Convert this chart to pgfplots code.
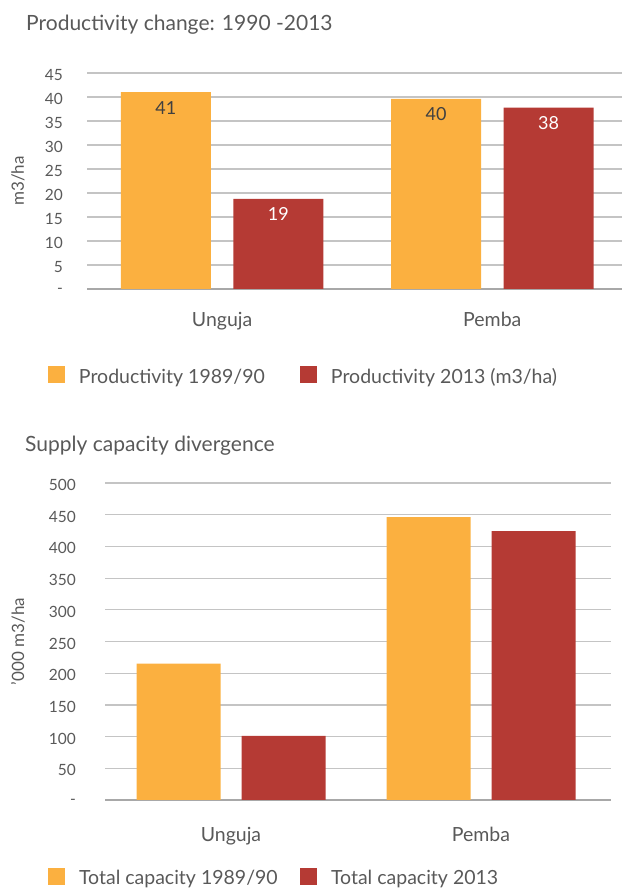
\documentclass[border=0pt]{standalone}
\usepackage{fontspec}
\setmainfont{Lato}
\usepackage{pgfplots}
\pgfplotsset{compat=1.18}
\definecolor{barorange}{HTML}{FBB040}
\definecolor{barred}{HTML}{B53A34}
\definecolor{gridgray}{HTML}{C4C4C4}
\definecolor{axisgray}{HTML}{A8A8A8}
\definecolor{txt}{HTML}{595959}
\definecolor{lbldark}{HTML}{404040}
\pgfplotsset{
  sqlegend/.style={legend image code/.code={\fill[##1] (0pt,-6pt) rectangle (17pt,11pt);}},
  mychart/.style={
    scale only axis,
    ybar,
    axis x line*=bottom, axis y line*=left,
    y axis line style={draw=none},
    x axis line style={-, draw=axisgray, line width=1.3pt},
    tick style={draw=none},
    ymajorgrids, grid style={gridgray, line width=1.2pt},
    xtick={0,1}, xticklabels={Unguja, Pemba},
    xticklabel style={anchor=base, font=\fontsize{19.5}{22}\selectfont, text=txt},
    yticklabel style={anchor=east, inner sep=0pt, font=\fontsize{15.5}{18}\selectfont, text=txt},
    every axis y label/.style={rotate=90, anchor=center, font=\fontsize{17}{20}\selectfont, text=txt},
    legend columns=2,
    every axis plot post/.append style={sqlegend},
    legend style={draw=none, fill=none, inner sep=0pt, outer sep=0pt,
      nodes={inner sep=0pt, text=txt, font=\fontsize{19.5}{22}\selectfont},
      /tikz/every odd column/.append style={column sep=14pt}},
  }
}
\begin{document}
\begin{tikzpicture}
\path[use as bounding box] (0,0) rectangle (622pt,888pt);
\node[anchor=base west, inner sep=0pt, text=txt, font=\fontsize{21}{24}\selectfont] at (26pt,857.3pt) {Productivity change: 1990 -2013};
\begin{axis}[mychart,
  at={(87pt,599pt)}, anchor=south west,
  width=535pt, height=216pt,
  xmin=-0.5, xmax=1.48,
  ymin=0, ymax=45, ytick={0,5,...,45},
  yticklabels={-,5,10,15,20,25,30,35,40,45},
  yticklabel style={xshift=-24pt, yshift=-2pt},
  ylabel={m3/ha},
  ylabel style={at={(axis description cs:-0.129,0.5)}},
  xticklabel style={yshift=-33pt},
  bar width=90pt, ybar=22.5pt,
  legend style={at={(axis description cs:-0.0729,0)}, anchor=west, yshift=-86.25pt},
  nodes near coords, point meta=explicit symbolic,
  every node near coord/.append style={anchor=base, yshift=-22pt, font=\fontsize{18}{20}\selectfont},
]
\addplot[fill=barorange, draw=none, every node near coord/.append style={text=lbldark}] coordinates {(0,41) [41] (1,39.6) [40]};
\addplot[fill=barred, draw=none, every node near coord/.append style={text=white}] coordinates {(0,18.8) [19] (1,37.8) [38]};
\legend{{\makebox[221pt][l]{Productivity 1989/90}}, {Productivity 2013 (m3/ha)}}
\end{axis}
\node[anchor=base west, inner sep=0pt, text=txt, font=\fontsize{21}{24}\selectfont] at (25pt,436pt) {Supply capacity divergence};
\begin{axis}[mychart,
  at={(105pt,88pt)}, anchor=south west,
  width=506pt, height=317pt,
  xmin=-0.504, xmax=1.52,
  ymin=0, ymax=500, ytick={0,50,...,500},
  yticklabels={-,50,100,150,200,250,300,350,400,450,500},
  yticklabel style={xshift=-29pt, yshift=-2pt},
  ylabel={'000 m3/ha},
  ylabel style={at={(axis description cs:-0.172,0.5)}},
  xticklabel style={yshift=-37pt},
  bar width=84pt, ybar=21pt,
  legend style={at={(axis description cs:-0.1126,0)}, anchor=west, yshift=-77pt},
]
\addplot[fill=barorange, draw=none] coordinates {(0,215) (1,446)};
\addplot[fill=barred, draw=none] coordinates {(0,101) (1,424)};
\legend{{\makebox[221pt][l]{Total capacity 1989/90}}, {Total capacity 2013}}
\end{axis}
\end{tikzpicture}
\end{document}
